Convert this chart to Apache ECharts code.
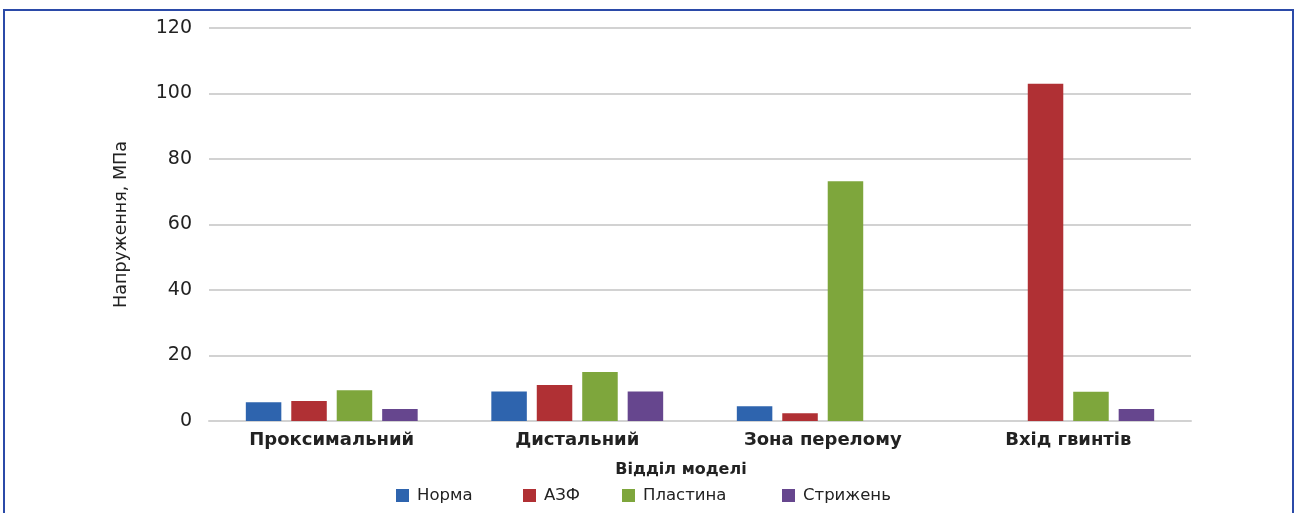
<!DOCTYPE html>
<html>
<head>
<meta charset="utf-8">
<script src="https://cdn.jsdelivr.net/npm/echarts@6/dist/echarts.min.js"></script>
<style>
  html, body { margin: 0; padding: 0; background: #fff; }
  #chart { width: 1298px; height: 513px; }
</style>
</head>
<body>
<div id="chart"></div>
<script>
// Stress by model region, MPa
const categories = ['Проксимальний', 'Дистальний', 'Зона перелому', 'Вхід гвинтів'];
const seriesNames = ['Норма', 'АЗФ', 'Пластина', 'Стрижень'];
const normaValues = [5.7, 9.0, 4.5, 0];
const azfValues = [6.1, 11.0, 2.4, 103];
const plastynaValues = [9.4, 15.0, 73.2, 8.9];
const stryzhenValues = [3.7, 9.0, 0, 3.7];
const yTicks = [0, 20, 40, 60, 80, 100, 120];

const colors = ['#2e64ae', '#b03034', '#7ea63c', '#66468e'];
const valueSets = [normaValues, azfValues, plastynaValues, stryzhenValues];
const FONT = 'DejaVu Sans';

const chart = echarts.init(document.getElementById('chart'), null, { renderer: 'canvas' });

const legendLefts = [391, 518, 617, 777];

chart.setOption({
  animation: false,
  backgroundColor: '#ffffff',
  color: colors,
  title: {
    text: 'Відділ моделі',
    left: 676,
    top: 457,
    textAlign: 'center',
    textStyle: { fontFamily: FONT, fontSize: 16, fontWeight: 'bold', color: '#222' }
  },
  legend: seriesNames.map((name, i) => ({
    data: [name],
    left: legendLefts[i],
    top: 482,
    itemWidth: 13,
    itemHeight: 13,
    itemGap: 8,
    icon: 'rect',
    textStyle: { fontFamily: FONT, fontSize: 16.5, color: '#222', padding: [0, 0, 0, 3] }
  })),
  grid: { left: 209, right: 107, top: 28, bottom: 92 },
  xAxis: {
    type: 'category',
    data: categories,
    axisLine: { show: true, lineStyle: { color: '#d2d2d2', width: 2 } },
    axisTick: { show: false },
    axisLabel: { margin: 10, fontFamily: FONT, fontSize: 18, fontWeight: 'bold', color: '#222' }
  },
  yAxis: {
    type: 'value',
    min: yTicks[0],
    max: yTicks[yTicks.length - 1],
    interval: 20,
    name: 'Напруження, МПа',
    nameLocation: 'middle',
    nameGap: 79,
    nameTextStyle: { fontFamily: FONT, fontSize: 17.5, color: '#222' },
    axisLine: { show: false },
    axisTick: { show: false },
    splitLine: { lineStyle: { color: '#d2d2d2', width: 2 } },
    axisLabel: { margin: 17, fontFamily: FONT, fontSize: 19, color: '#222' }
  },
  series: seriesNames.map((name, i) => ({
    name: name,
    type: 'bar',
    data: valueSets[i],
    barGap: '28%',
    barCategoryGap: '30%',
    itemStyle: { color: colors[i] }
  })),
  graphic: [{
    type: 'rect',
    shape: { x: 4, y: 10, width: 1289, height: 520 },
    style: { fill: 'none', stroke: '#2b4aa8', lineWidth: 2 },
    silent: true,
    z: 100
  }]
});
</script>
</body>
</html>
